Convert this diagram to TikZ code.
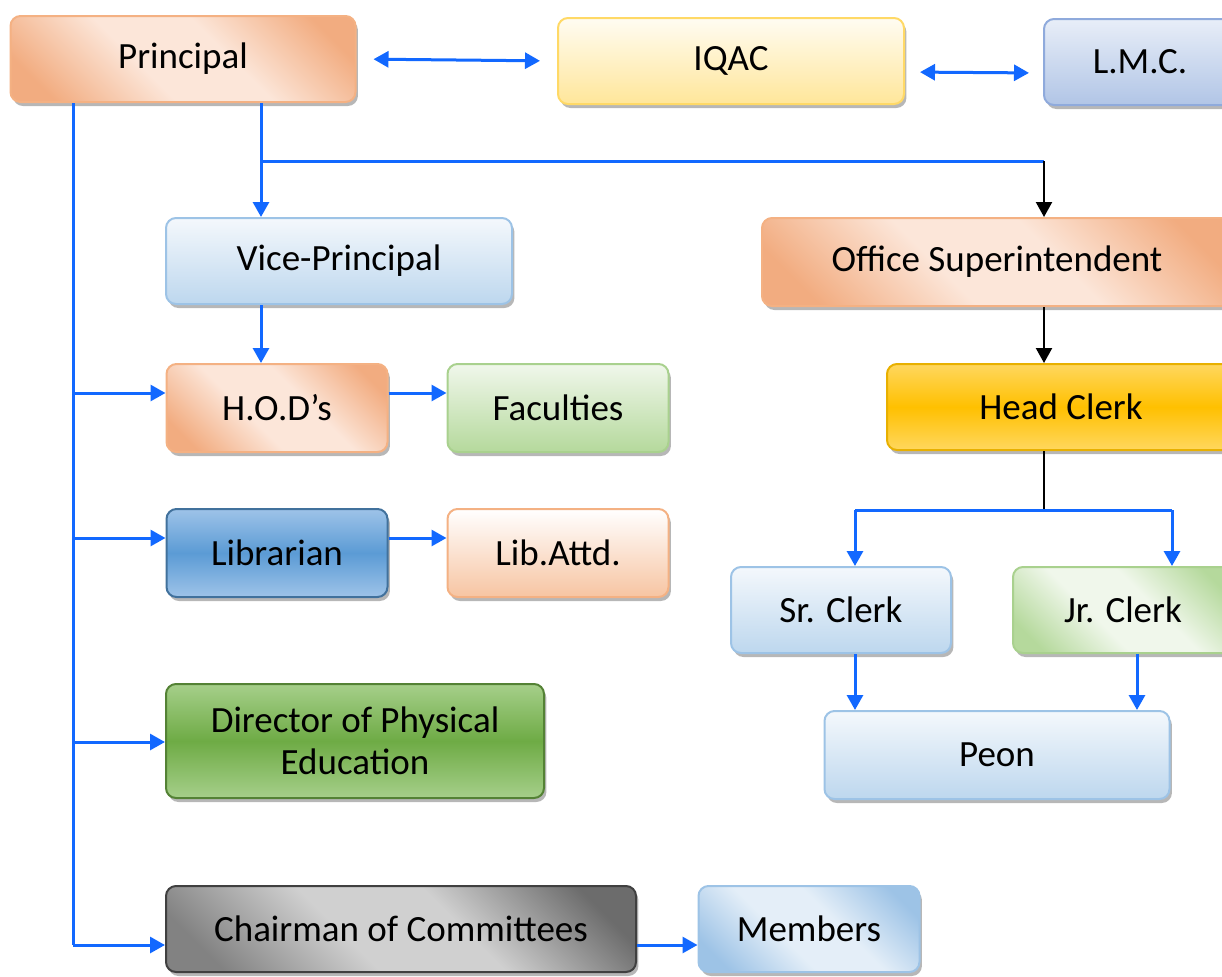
\documentclass[tikz,border=0pt]{standalone}
\usepackage{fontspec}
\setmainfont{Carlito}
\usetikzlibrary{positioning,calc,shadows,arrows.meta}

\definecolor{linkblue}{RGB}{18,104,255}
\definecolor{peachdark}{HTML}{F2AC80}
\definecolor{peachlight}{HTML}{FCE6D9}
\definecolor{peachline}{HTML}{F4B183}
\definecolor{sunlight}{HTML}{FFFCF2}
\definecolor{sundark}{HTML}{FFE69A}
\definecolor{sunline}{HTML}{FFD966}
\definecolor{lavlight}{HTML}{E8EEF8}
\definecolor{lavdark}{HTML}{B1C5E6}
\definecolor{lavline}{HTML}{8FAADC}
\definecolor{skylight}{HTML}{F4F8FC}
\definecolor{skydark}{HTML}{BDD7EE}
\definecolor{skyline}{HTML}{9DC3E6}
\definecolor{leaflight}{HTML}{F0F7EB}
\definecolor{leafdark}{HTML}{B5D99C}
\definecolor{leafline}{HTML}{A9D18E}
\definecolor{goldmid}{HTML}{FFC000}
\definecolor{goldlight}{HTML}{FFD75E}
\definecolor{goldline}{HTML}{E8B000}
\definecolor{libmid}{HTML}{5B9BD5}
\definecolor{liblight}{HTML}{9EC3E8}
\definecolor{libline}{HTML}{41719C}
\definecolor{grassmid}{HTML}{6EAB45}
\definecolor{grasslight}{HTML}{A6CF8A}
\definecolor{grassline}{HTML}{548235}
\definecolor{slatedark}{HTML}{6C6C6C}
\definecolor{slatelight}{HTML}{D0D0D0}
\definecolor{slateline}{HTML}{404040}

% Diagonal bands: dark corners, wide light middle
\pgfdeclareverticalshading{peachband}{100bp}{color(0bp)=(peachdark); color(22bp)=(peachdark);
    color(42bp)=(peachlight); color(58bp)=(peachlight); color(78bp)=(peachdark); color(100bp)=(peachdark)}
\pgfdeclareverticalshading{leafband}{100bp}{color(0bp)=(leafdark); color(22bp)=(leafdark);
    color(42bp)=(leaflight); color(58bp)=(leaflight); color(78bp)=(leafdark); color(100bp)=(leafdark)}
\pgfdeclareverticalshading{skyband}{100bp}{color(0bp)=(skyline); color(22bp)=(skyline);
    color(42bp)=(skylight!70!skydark); color(58bp)=(skylight!70!skydark); color(78bp)=(skyline); color(100bp)=(skyline)}
\pgfdeclareverticalshading{slateband}{100bp}{color(0bp)=(slatedark!85); color(22bp)=(slatedark!85);
    color(42bp)=(slatelight); color(58bp)=(slatelight); color(78bp)=(slatedark); color(100bp)=(slatedark)}

\begin{document}
\begin{tikzpicture}[x=0.5pt, y=-0.5pt,
    box/.style={rounded corners=5pt, draw, line width=1pt, inner sep=2pt,
        minimum height=43pt, align=center, text=black,
        font=\fontsize{18.5}{21}\selectfont,
        drop shadow={shadow xshift=1.2pt, shadow yshift=-2pt, opacity=0.4, fill=black!70}},
    peach/.style={box, draw=peachline, shade, shading=peachband, shading angle=-45},
    peachsoft/.style={box, draw=peachline, top color=white, bottom color=peachline!75},
    sun/.style={box, draw=sunline, top color=sunlight, bottom color=sundark},
    lav/.style={box, draw=lavline, top color=lavlight, bottom color=lavdark},
    sky/.style={box, draw=skyline, top color=skylight, bottom color=skydark},
    skydiag/.style={box, draw=skyline, shade, shading=skyband, shading angle=-45},
    leaf/.style={box, draw=leafline, top color=leaflight, bottom color=leafdark},
    leafdiag/.style={box, draw=leafline, shade, shading=leafband, shading angle=-45},
    gold/.style={box, draw=goldline, top color=goldlight, bottom color=goldlight,
        middle color=goldmid},
    lib/.style={box, draw=libline, top color=liblight, bottom color=liblight,
        middle color=libmid},
    grass/.style={box, draw=grassline, top color=grasslight, bottom color=grasslight,
        middle color=grassmid},
    slate/.style={box, draw=slateline, shade, shading=slateband, shading angle=-45},
    bline/.style={draw=linkblue, line width=1.5pt},
    barrow/.style={bline, -{Triangle[length=7.5pt, width=8pt]}},
    bboth/.style={bline, {Triangle[length=7.5pt, width=8pt]}-{Triangle[length=7.5pt, width=8pt]}},
    kline/.style={draw=black, line width=1.1pt},
    karrow/.style={kline, -{Triangle[length=7.5pt, width=8pt]}}
]
    \path[use as bounding box, clip] (0,0) rectangle (1222,976);

    % Top row
    \node[peach, minimum width=172.5pt] (prin) at (183,59) {Principal};
    \node[sun, minimum width=173pt] (iqac) at (731,61) {IQAC};
    \node[lav, minimum width=96pt] (lmc) at (1140,62) {L.M.C.};

    % Academic side
    \node[sky, minimum width=173pt] (vp) at (339,261) {Vice-Principal};
    \node[peach, minimum width=110.5pt, minimum height=44pt] (hod) at (277,408) {H.O.D’s};
    \node[leaf, minimum width=110.5pt, minimum height=44pt] (fac) at (558,408) {Faculties};
    \node[lib, minimum width=110.5pt, minimum height=44pt] (lib) at (277,553) {Librarian};
    \node[peachsoft, minimum width=110.5pt, minimum height=44pt] (libatt) at (558,553) {Lib.Attd.};
    \node[grass, minimum width=189pt, minimum height=57pt] (dpe) at (355,741)
        {Director of Physical\\Education};
    \node[slate, minimum width=235pt] (chair) at (401,929) {Chairman of Committees};
    \node[skydiag, minimum width=110.5pt] (mem) at (809,929) {Members};

    % Office side
    \node[peach, minimum width=235pt, minimum height=44pt] (os) at (997,262) {Office Superintendent};
    \node[gold, minimum width=174pt] (hc) at (1061,407) {Head Clerk};
    \node[sky, minimum width=110pt] (sr) at (841,610) {Sr. Clerk};
    \node[leafdiag, minimum width=110pt] (jr) at (1123,610) {Jr. Clerk};
    \node[sky, minimum width=172.5pt, minimum height=44pt] (peon) at (997,755) {Peon};

    % Helper coordinates for the connector lines
    \coordinate (spine) at (73,0);
    \coordinate (leg) at (261,161);
    \coordinate (osx) at (1044,0);
    \coordinate (fork) at (0,510);
    \coordinate (srx) at (855,0);
    \coordinate (jrx) at (1172,0);
    \coordinate (pnx) at (1137,0);
    \coordinate (r1) at (0,393);
    \coordinate (r2) at (0,538);
    \coordinate (r3) at (0,742);
    \coordinate (r4) at (0,945);

    % Two-way links on the top row
    \draw[bboth, shorten <=8.5pt, shorten >=8.5pt] (prin.east) -- (iqac.west);
    \draw[bboth, shorten <=7.5pt, shorten >=7pt] ([yshift=-5.5pt]iqac.east) -- ([yshift=-5.5pt]lmc.west);

    % Principal spine down the left
    \draw[bline] (prin.south -| spine) -- (spine |- r4);
    \draw[barrow] (spine |- r1) -- (hod.west |- r1);
    \draw[barrow] (spine |- r2) -- (lib.west |- r2);
    \draw[barrow] (spine |- r3) -- (dpe.west |- r3);
    \draw[barrow] (spine |- r4) -- (chair.west |- r4);
    \draw[barrow] (hod.east |- r1) -- (fac.west |- r1);
    \draw[barrow] (lib.east |- r2) -- (libatt.west |- r2);
    \draw[barrow] (chair.east |- r4) -- (mem.west |- r4);

    % Principal to Vice-Principal and office
    \draw[barrow] (prin.south -| leg) -- (vp.north -| leg);
    \draw[barrow] (vp.south -| leg) -- (hod.north -| leg);
    \draw[bline] (leg) -- (osx |- leg);
    \draw[karrow] (osx |- leg) -- (os.north -| osx);
    \draw[karrow] (os.south -| osx) -- (hc.north -| osx);
    \draw[kline] (hc.south -| osx) -- (osx |- fork);

    % Clerks and peon
    \draw[bline] (srx |- fork) -- (jrx |- fork);
    \draw[barrow] (srx |- fork) -- (sr.north -| srx);
    \draw[barrow] (jrx |- fork) -- (jr.north -| jrx);
    \draw[barrow] (sr.south -| srx) -- (peon.north -| srx);
    \draw[barrow] (jr.south -| pnx) -- (peon.north -| pnx);
\end{tikzpicture}
\end{document}
